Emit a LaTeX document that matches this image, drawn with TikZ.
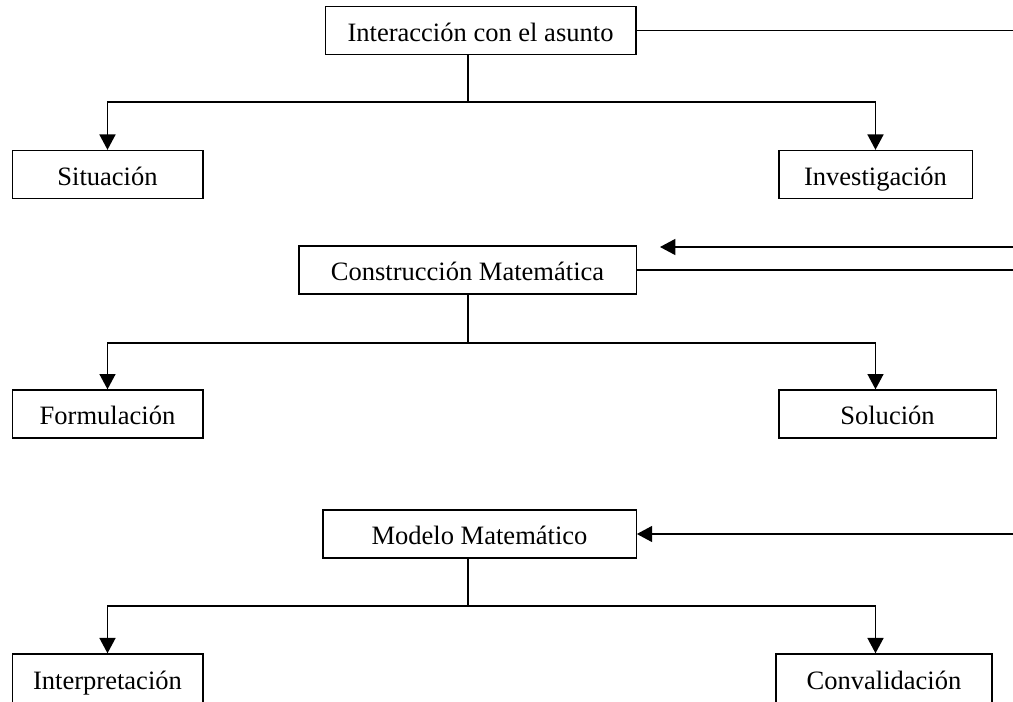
\documentclass[tikz,border=0pt]{standalone}
\usepackage{fontspec}
\setmainfont{Liberation Serif}
\usetikzlibrary{arrows.meta}

\begin{document}
\begin{tikzpicture}[x=0.75pt,y=-0.75pt,
	caja/.style={draw,line width=1pt,minimum height=36pt,inner sep=0pt,text height=20pt,text depth=4pt,font=\fontsize{19.9}{24}\selectfont},
	flecha/.style={-{Triangle[length=11.5pt,width=12pt]},line width=1.1pt},
	linea/.style={line width=0.9pt}]
			\useasboundingbox (0,0) rectangle (1013,702);
			\node[caja,minimum width=233pt] (int) at (480.5,30.5) {Interacción con el asunto};
			\node[caja,minimum width=143pt] (sit) at (107.5,174.5) {Situación};
			\node[caja,minimum width=145pt] (inv) at (875.5,174.5) {Investigación};
			\node[caja,minimum width=253pt] (con) at (467.5,270) {Construcción Matemática};
			\node[caja,minimum width=143pt] (for) at (107.5,414) {Formulación};
			\node[caja,minimum width=163pt] (sol) at (887.5,414) {Solución};
			\node[caja,minimum width=235pt] (mod) at (479.5,534) {Modelo Matemático};
			\node[caja,minimum width=143pt,minimum height=38pt] (inter) at (107.5,679.3) {Interpretación};
			\node[caja,minimum width=162pt,minimum height=38pt] (conv) at (884,679.3) {Convalidación};
			
			\coordinate (r1) at (468,102);
			\coordinate (r2) at (468,343);
			\coordinate (r3) at (468,606);
			\coordinate (e1) at (1013,247);
			\coordinate (e2) at (660,247);
			\coordinate (fin) at (1013,0);
			
			\draw[linea] (int.south -| r1) -- (r1);
			\draw[flecha] (r1) -| (sit.north);
			\draw[flecha] (r1) -| (inv.north);
			\draw[linea] (con.south -| r2) -- (r2);
			\draw[flecha] (r2) -| (for.north);
			\draw[flecha] (r2) -| (sol.north -| inv.north);
			\draw[linea] (mod.south -| r3) -- (r3);
			\draw[flecha] (r3) -| (inter.north);
			\draw[flecha] (r3) -| (conv.north -| inv.north);
			
			\draw[linea] (int.east) -- (int.east -| fin);
			\draw[flecha] (e1) -- (e2);
			\draw[linea] (con.east) -- (con.east -| fin);
			\draw[flecha] (mod.east -| fin) -- (mod.east);
		\end{tikzpicture}
\end{document}
